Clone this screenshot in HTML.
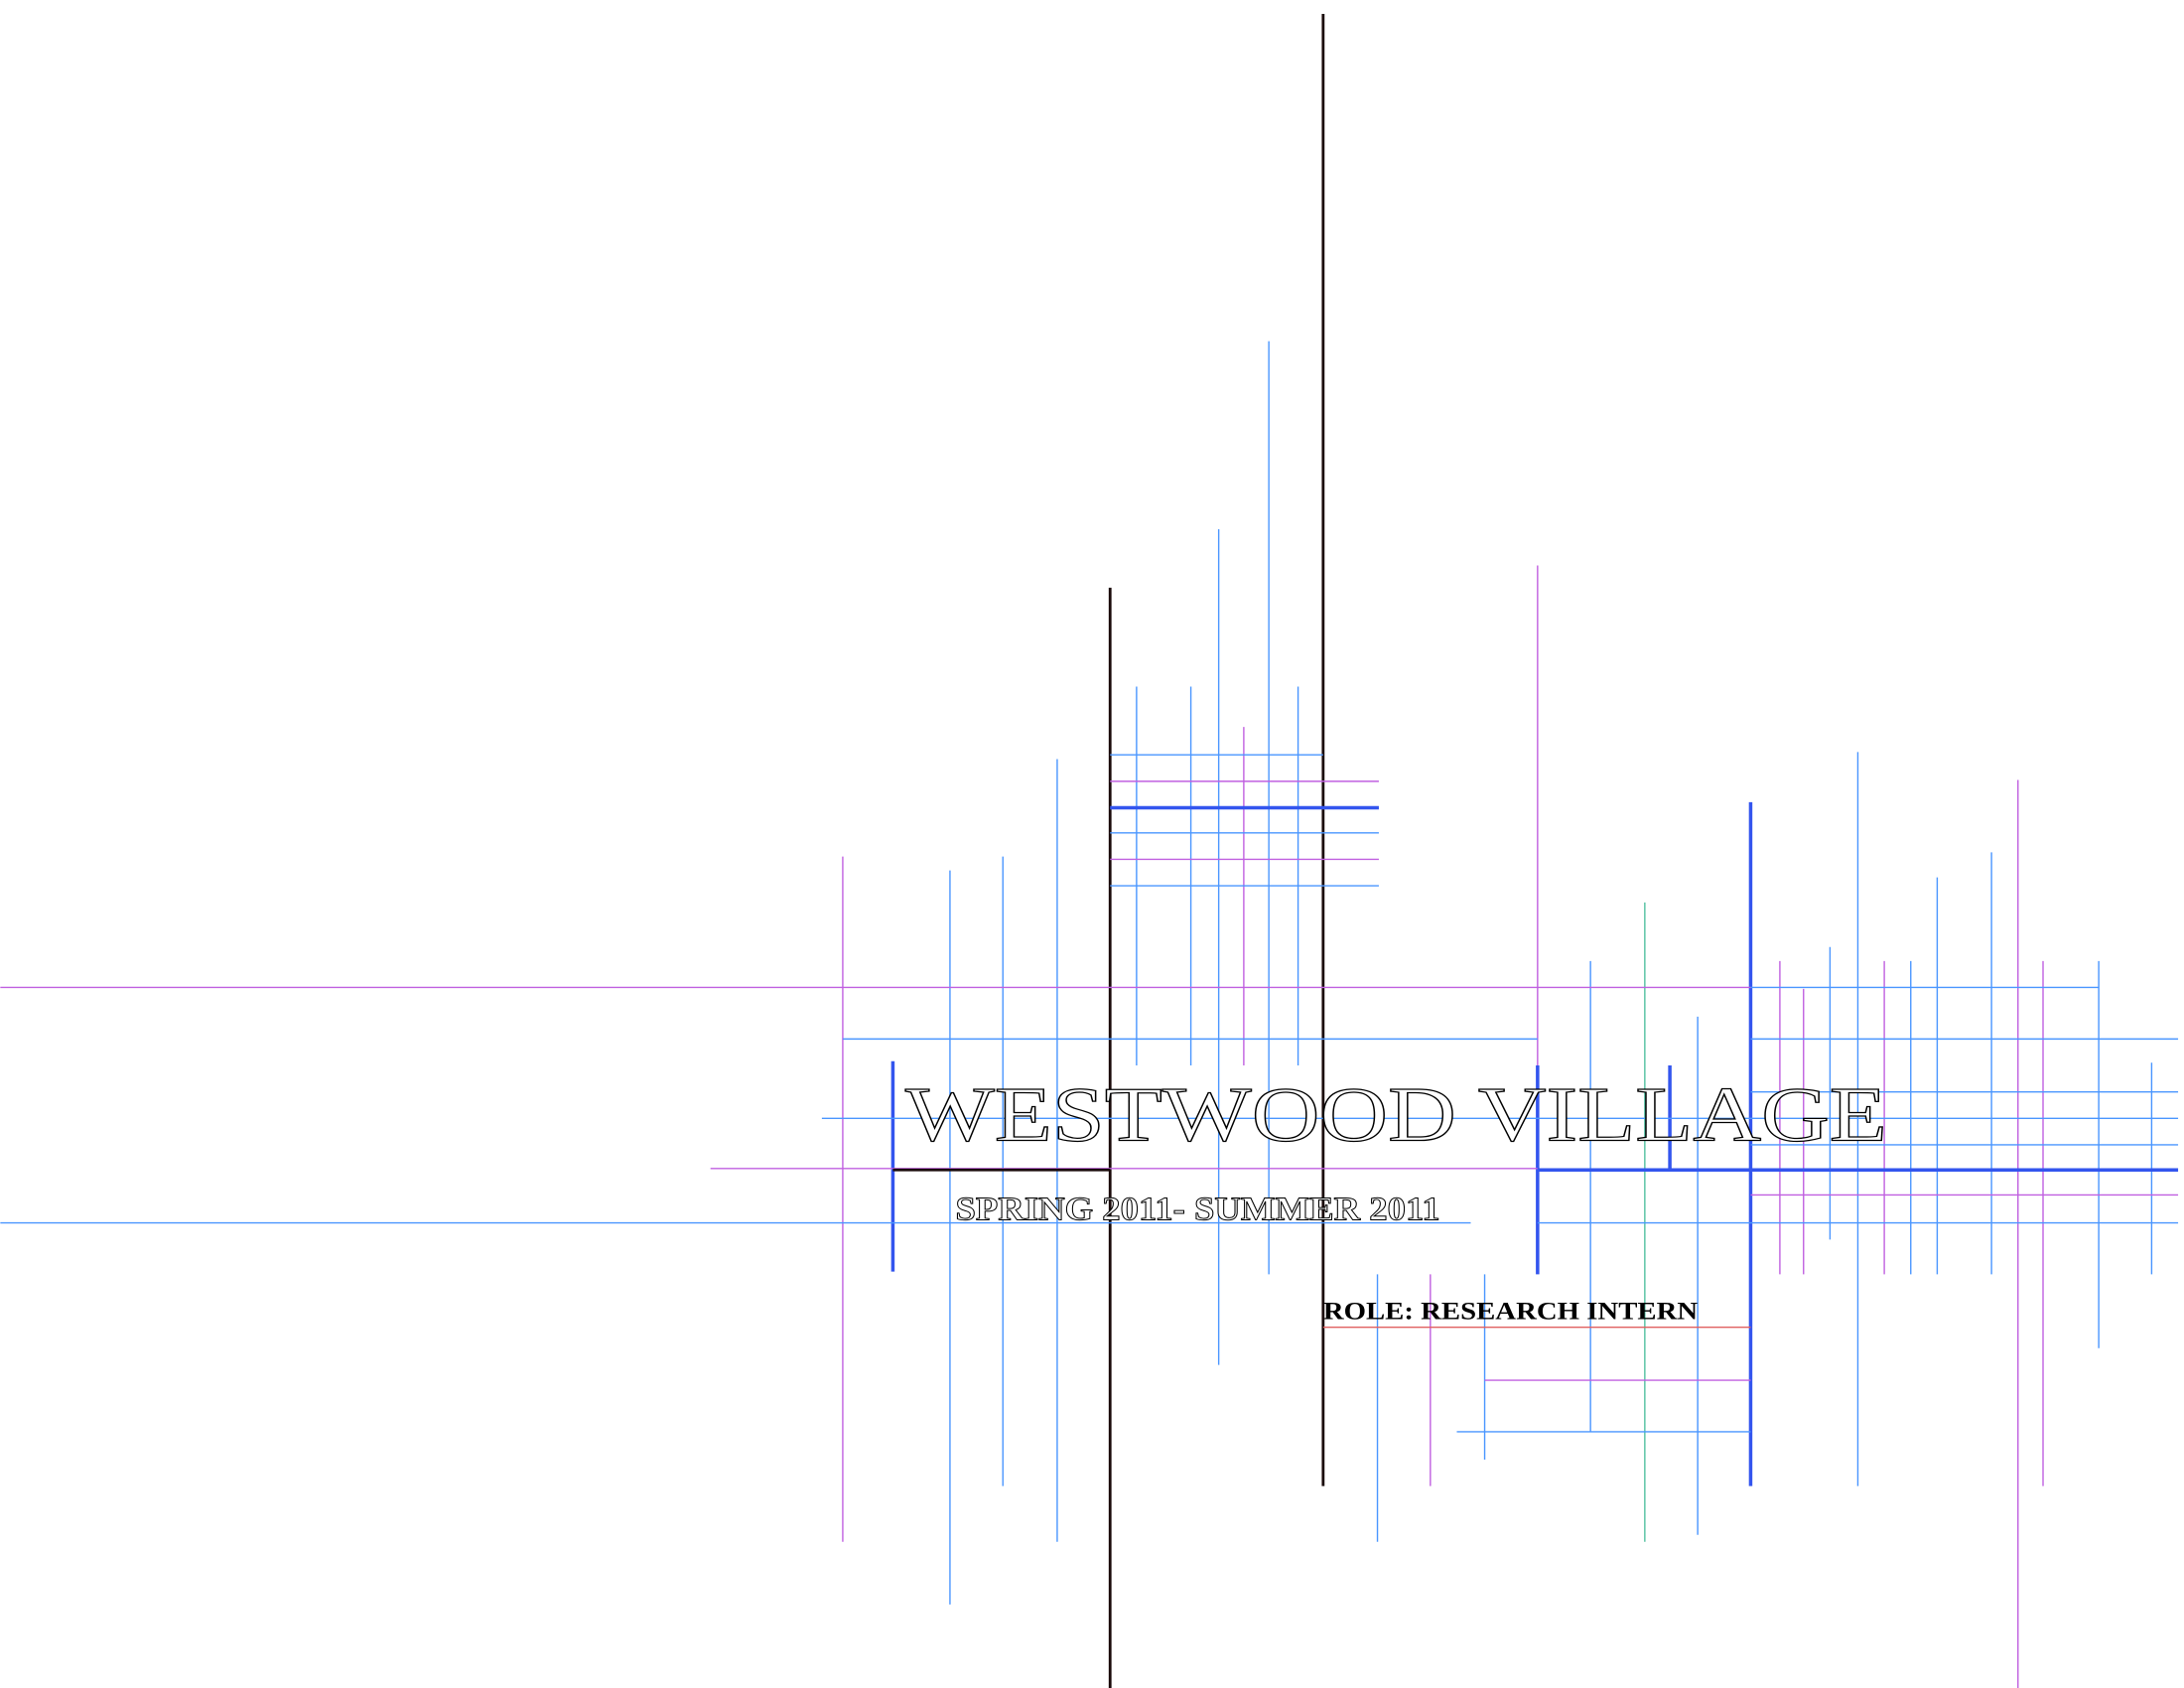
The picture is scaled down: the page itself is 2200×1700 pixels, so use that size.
<!DOCTYPE html>
<html><head><meta charset="utf-8"><style>html,body{margin:0;padding:0;background:#fff}svg{display:block}</style></head>
<body>
<svg width="2200" height="1700" viewBox="0 0 1568 1212" xmlns="http://www.w3.org/2000/svg">
<rect width="1568" height="1212" fill="#fff"/>
<g id="grid"></g>
<g font-family="'Liberation Serif', serif">
<text x="650" y="819" font-size="56" textLength="705" lengthAdjust="spacingAndGlyphs" fill="#fff" stroke="#000" stroke-width="0.9">WESTWOOD VILLAGE</text>
<text x="686" y="876" font-size="24" textLength="348" lengthAdjust="spacingAndGlyphs" fill="#fff" stroke="#000" stroke-width="0.7" font-weight="bold">SPRING 2011- SUMMER 2011</text>
<text x="950" y="947" font-size="18" font-weight="bold" textLength="269" lengthAdjust="spacingAndGlyphs" fill="#000">ROLE: RESEARCH INTERN</text>
</g>
<script>
const B='#4a96ff',M='#c060e0',D='#3355ee',K='#1a0a0a',G='#50c0a0',R='#e06060';
// [orientation, fixed, start, end, color, width]
const lines=[
['v',950,10,1067,K,2],['v',797,422,1212,K,2],['v',911,245,915,B,1],['v',875,380,980,B,1],
['v',816,493,765,B,1],['v',855,493,765,B,1],['v',932,493,765,B,1],['v',893,522,765,M,1],
['v',759,545,1107,B,1],['v',720,615,1067,B,1],['v',682,625,1152,B,1],['v',605,615,1107,M,1],
['v',641,762,913,D,2.5],['v',1104,406,765,M,1],['v',1104,765,915,D,2.5],['v',1257,576,1067,D,2.5],
['v',1199,765,840,D,2.5],['v',1142,690,1028,B,1],['v',1181,648,1107,G,1],['v',1219,730,1102,B,1],
['v',989,915,1107,B,1],['v',1027,915,1067,M,1],['v',1066,915,1048,B,1],
['v',1278,690,915,M,1],['v',1295,710,915,M,1],['v',1314,680,890,B,1],['v',1334,540,1067,B,1],
['v',1353,690,915,M,1],['v',1372,690,915,B,1],['v',1391,630,915,B,1],['v',1430,612,915,B,1],
['v',1449,560,1212,M,1],['v',1467,690,1067,M,1],['v',1507,690,968,B,1],['v',1545,763,915,B,1],
['h',542,797,950,B,1],['h',561,797,990,M,1],['h',580,797,990,D,2.5],['h',598,797,990,B,1],
['h',617,797,990,M,1],['h',636,797,990,B,1],
['h',709,0,1257,M,1],['h',709,1257,1507,B,1],
['h',746,605,1104,B,1],['h',746,1257,1564,B,1],
['h',784,1257,1564,B,1],['h',803,590,1564,B,1],['h',822,1257,1564,B,1],
['h',839,510,1104,M,1],['h',840,641,797,K,2],['h',840,1104,1564,D,2.5],
['h',858,1257,1564,M,1],['h',878,0,1056,B,1],['h',878,1104,1564,B,1],
['h',953,950,1257,R,1],['h',991,1066,1257,M,1],['h',1028,1046,1257,B,1]
];
const g=document.getElementById('grid');
lines.forEach((l,i)=>{
const e=document.createElementNS('http://www.w3.org/2000/svg','line');
if(l[0]==='v'){e.setAttribute('x1',l[1]);e.setAttribute('x2',l[1]);e.setAttribute('y1',l[2]);e.setAttribute('y2',l[3]);}
else{e.setAttribute('y1',l[1]);e.setAttribute('y2',l[1]);e.setAttribute('x1',l[2]);e.setAttribute('x2',l[3]);}
e.setAttribute('stroke',l[4]);e.setAttribute('stroke-width',l[5]);


g.appendChild(e);
});
</script>
</svg>
</body></html>
